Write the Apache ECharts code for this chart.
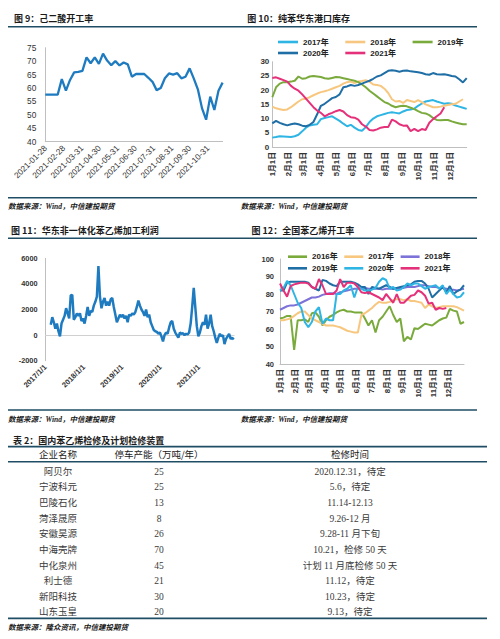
<!DOCTYPE html>
<html><head><meta charset="utf-8">
<script src="https://cdn.jsdelivr.net/npm/echarts@6/dist/echarts.min.js"></script>
<style>html,body{margin:0;padding:0;background:#fff}#c{width:500px;height:639px}</style>
</head><body><div id="c"></div>
<script>
// ---------- 图9：己二酸开工率 (weekly, from 2021-01-28) ----------
const adipicStart = '2021-01-28';
const adipicRate = [57.5,57.5,57.5,57.5,63.3,59,63,65.8,66,66.4,71.4,69.2,71.4,69,72.8,70.2,68.5,70,68.4,69.5,68.8,64.2,65.2,65.2,65.2,63.8,62.3,59.2,60,63.6,65.4,65,65.5,63.6,64.2,67.3,63.6,59.5,52.5,48.2,56.8,51.8,59,62];

// ---------- 图10：纯苯华东港口库存 (weekly from 1月1日) ----------
const invYears = ['2017年','2018年','2019年','2020年','2021年'];
const inv2017 = [3.3,3.5,3.8,3.7,3.6,3.5,3.8,4.3,5.5,6.8,7.6,7.8,8.0,9.8,10.2,10.5,10.8,10.0,9.2,8.2,7.3,7.8,6.8,6.0,5.7,7.0,8.8,10.0,10.8,11.2,11.6,12.0,12.2,12.0,11.8,12.5,13.0,13.2,13.5,14.5,15.3,16.0,16.3,16.5,16.0,15.6,15.2,15.4,15.2,14.6,14.2,13.8,13.4];
const inv2018 = [14.2,13.6,13.3,13.0,13.2,14.0,15.0,16.0,16.8,17.0,17.5,18.2,18.8,19.3,19.6,20.0,20.5,21.0,21.5,22.3,22.8,23.0,22.5,23.0,23.2,23.5,23.0,22.0,21.8,21.5,20.5,19.0,16.8,16.0,16.2,15.5,16.5,16.2,15.8,16.5,15.8,15.0,14.5,14.0,14.0,14.2,14.5,14.8,15.0,15.2,16.0,16.8];
const inv2019 = [17.5,21.0,22.3,22.8,22.8,23.0,23.3,24.8,24.0,24.2,24.8,25.0,24.8,24.6,24.2,24.0,24.3,24.6,24.5,24.2,23.9,23.6,23.3,22.8,22.0,21.0,19.8,18.8,17.8,16.8,15.8,15.3,14.5,14.0,14.3,14.5,14.3,13.8,13.3,12.6,12.0,11.8,11.2,10.2,9.5,9.4,9.5,9.5,9.0,8.6,8.3,8.0,8.0];
const inv2020 = [8.3,9.2,8.5,8.0,7.6,8.0,8.3,8.0,7.5,7.3,7.8,8.8,11.5,14.5,15.2,16.2,17.2,17.6,18.5,21.0,21.3,21.8,21.5,21.8,22.3,22.8,23.3,24.0,24.8,25.2,26.0,26.8,27.0,26.8,26.5,26.8,26.9,26.6,26.5,26.3,26.0,25.6,25.4,26.0,25.6,25.5,25.6,25.3,25.0,24.8,23.8,22.7,24.2];
const inv2021 = [24.3,24.5,24.0,23.5,23.0,21.5,20.5,19.8,18.5,17.0,15.5,14.0,12.8,12.0,10.8,11.5,12.0,12.6,13.0,12.5,11.2,10.5,10.3,9.6,8.0,7.2,6.0,5.8,6.2,6.8,7.0,7.0,9.6,9.0,8.0,7.5,7.6,5.6,6.4,5.6,6.3,6.0,8.5,9.8,10.8,11.8,14.0];

// ---------- 图11：华东非一体化苯乙烯加工利润 (sampled ~every 2 weeks from 2017-02-20) ----------
const profitStart = '2017-02-20';
const profitStepDays = 14.65;
const profit = [800,1400,1000,500,900,300,-100,900,1200,1500, 2100,1700,1300,3100,3150,1200,1400,1700,1500,1700, 1100,1300,900,1500,2200,1500,1900,1800,2300,2600, 3000,5400,3000,2100,2600,2900,2300,2600,2300,2800, 2900,2200,1600,1000,1300,1600,1400,1600,1300,1500, 1000,1600,1500,1700,1600,1800,2200,2700,2300,2000, 1800,1500,2000,1400,1600,1000,700,400,300,250, 100,200,-100,-500,0,200,100,600,1000,1100, 500,200,0,-200,200,100,150,0,100,50, 200,900,2200,3700,2200,700,-100,200,700,1000, 800,1600,500,900,1600,700,300,-200,-600,-200, 100,-100,0,-700,-300,-100,100,-300,-200,-350];
const profitYearTicks = [2017,2018,2019,2020,2021];

// ---------- 图12：全国苯乙烯开工率 (weekly from 1月1日) ----------
const opYears = ['2016年','2017年','2018年','2019年','2020年','2021年'];
const op2016 = [66,66.5,67.5,67.5,48,65,65,65.5,64,69, 69.5,67,62,65,67, 68,69.5,70.5,71,70, 70,69.5,69.5,69.5,66, 62,65,58,65,67, 70,73,68,64,66, 53,55.5,54,60.5,60, 61.5,63,62.5,62,63.5, 65,66,66.5,71.5,70.5, 70,63,64];
const op2017 = [65,65,65.5,66,67.5, 69,70,70,68,66, 65,64,63,62,62, 62,61.5,61,60,59, 58.5,58,58,68,69, 70.5,72,74,75.5,75, 75,75.5,76.5,77,77, 76.5,77,76,76,75.5, 75,72,74,73,72, 72.5,73,73,73,73, 72.5,71.5,70.5];
const op2018 = [71,72,73,73.5,73.5, 74,75,76,77,78, 78,78.5,79.5,80,80.5, 80.5,80,81,81.5,82, 82.5,83,83,83.5,83.5, 83,83,83,83,82.5, 83,83,83,83,83.5, 83.5,84,84,84,84.5, 85,85,84.5,84,84, 83.5,83.5,83,82.5,82.5, 82,82.5,83];
const op2019 = [82,82,86.5,87,87, 87,87,87,86.5,84, 83,82,88,87.5,86, 85,84.5,87,87,87, 87,86.5,85.5,84,84, 80,84,83.5,83,84, 85,84,83,83.5,84, 84.5,85,85.5,87,87.5, 87.5,86,83,78,80, 82,84,81,84.5,80, 81.5,82.5,85];
const op2020 = [82,83.5,87.5,85,80, 75,72,64,61,64, 70,72.5,63,66,65, 65,80,80,82,83, 85,78,84,83,82, 82,82.5,83.5,87,89, 88,83,84,82,82.5, 84,86,85,86,86, 84.5,83,84,84.5,85, 83,85,80,82.5,80, 78,78.5,81];
const op2021 = [86,82,78.5,84.5,85.5, 86,86.5,86.5,86,84, 83,88.5,85,80,80, 80,82,88.5,84,86.5, 86.5,86,84,81,80.5, 81,80,79,78,76.5, 80,77.5,75,80,75, 75,77,79,79.5,82, 81,79,74.5,75,71, 72,71.5,72];

// ---------- 表2 ----------
const tableHeader = ['企业名称','停车产能（万吨/年）','检修时间'];
const companies = ['阿贝尔','宁波科元','巴陵石化','菏泽晟原','安徽昊源','中海壳牌','中化泉州','利士德','新阳科技','山东玉皇'];
const capacities = ['25','25','13','8','26','70','45','21','30','20'];
const overhaulTimes = ['2020.12.31，待定','5.6，待定','11.14-12.13','9.26-12 月','9.28-11 月下旬','10.21，检修 50 天','计划 11 月底检修 50 天','11.12，待定','10.23，待定','9.13，待定'];

// ---------- titles / sources ----------
const titles = ['图 9：己二酸开工率','图 10：纯苯华东港口库存','图 11：华东非一体化苯乙烯加工利润','图 12：全国苯乙烯开工率','表 2：国内苯乙烯检修及计划检修装置'];
const sourceWind = '数据来源：Wind，中信建投期货';
const sourceTable = '数据来源：隆众资讯，中信建投期货';

// ================= build =================
const DAY = 86400000;
const t0 = Date.parse(adipicStart + 'T00:00:00Z');
const adipicCats = [];
for (let i = 0; i < adipicRate.length * 7 - 6; i++) adipicCats.push(new Date(t0 + i * DAY).toISOString().slice(0, 10));
const adipicLabel = (i) => i === 0 || (i > 7 && new Date(t0 + (i + 1) * DAY).getUTCDate() === 1);

const monthLen = [31,28,31,30,31,30,31,31,30,31,30,31];
const dayCats = [];
monthLen.forEach((n, m) => { for (let d = 1; d <= n; d++) dayCats.push((m + 1) + '月' + d + '日'); });
const dayLabel = (i, v) => /^\d+月1日$/.test(v);

const p0 = Date.parse(profitStart + 'T00:00:00Z');
const y2017 = Date.parse('2017-01-01T00:00:00Z');
const profitData = profit.map((v, i) => [2017 + (p0 - y2017 + i * profitStepDays * DAY) / (365.25 * DAY), v]);

const weekly = (arr) => arr.map((v, k) => [k * 7, v]);

const LAT = '"Liberation Sans","Noto Sans CJK SC"';
const AX = '#BFBFBF';
const LINEC = '#1F4E64';

const C = {c17:'#2EB5E3', c18:'#F7C77F', c19:'#7AAA3C', c20:'#1F6EA6', c21:'#E5307A', c16:'#7AAA3C', cPurple:'#7C72D8', blue:'#1F7BC0'};

function ser(name, color, data, xi, yi, w) {
  return {type:'line', name, xAxisIndex:xi, yAxisIndex:yi, data, symbol:'none', showSymbol:false, color,
    lineStyle:{color, width:w}, emphasis:{disabled:true}, silent:true};
}
const lbl = (size, bold, extra) => Object.assign({fontSize:size, fontWeight: bold ? 'bold' : 'normal', color:'#333', fontFamily:LAT}, extra || {});
const axLine = {show:true, lineStyle:{color:AX, width:1}};

const G = [];
function txt(x, y, s, font, fill, align) {
  G.push({type:'text', x, y, silent:true, style:{text:s, font, fill:fill || '#1a1a1a', align:align || 'left', textAlign:align || 'left', verticalAlign:'middle', textVerticalAlign:'middle'}});
}
function ln(x1, y1, x2, y2, w, c) {
  G.push({type:'line', silent:true, shape:{x1, y1, x2, y2}, style:{stroke:c || LINEC, lineWidth:w}});
}
const TF = 'bold 9px "Noto Sans CJK SC"';
const SF = 'italic bold 7.5px "Liberation Serif","Noto Sans CJK SC"';
txt(14, 18.8, titles[0], TF);
txt(247.3, 18.6, titles[1], TF);
txt(11, 230, titles[2], TF);
txt(251.5, 230, titles[3], TF);
txt(13, 440, titles[4], TF);
ln(8, 26.8, 477, 26.8, 1.6);
ln(8, 197.8, 477, 197.8, 1.6);
ln(8, 238.3, 477, 238.3, 1.6);
ln(8, 410, 477, 410, 1.6);
txt(8, 206, sourceWind, SF);
txt(240.7, 206, sourceWind, SF);
txt(8, 419, sourceWind, SF);
txt(240.7, 419, sourceWind, SF);
// table
ln(8, 446.6, 487, 446.6, 1.8);
ln(8, 461.8, 487, 461.8, 1.4);
ln(8, 618.3, 487, 618.3, 1.8);
const colX = [58, 159, 350];
const HF = '9.5px "Noto Sans CJK SC"';
const BF = '9.5px "Liberation Serif","Noto Sans CJK SC"';
tableHeader.forEach((h, j) => txt(colX[j], 454.3, h, HF, '#1a1a1a', 'center'));
companies.forEach((c, i) => {
  const y = 471.7 + i * 15.64;
  txt(colX[0], y, c, BF, '#3a3a3a', 'center');
  txt(colX[1], y, capacities[i], BF, '#3a3a3a', 'center');
  txt(colX[2], y, overhaulTimes[i], BF, '#3a3a3a', 'center');
});
txt(8, 627.4, sourceTable, SF);

const invColors = [C.c17, C.c18, C.c19, C.c20, C.c21];
const invData = [inv2017, inv2018, inv2019, inv2020, inv2021];
const opColors = [C.c16, C.c18, C.cPurple, C.c20, C.c17, C.c21];
const opData = [op2016, op2017, op2018, op2019, op2020, op2021];

const series = [];
series.push(ser('adipic', C.blue, adipicRate.map((v, k) => [k * 7, v]), 0, 0, 2.3));
invYears.forEach((n, i) => series.push(ser('A' + n, invColors[i], weekly(invData[i]), 1, 1, 2)));
series.push(ser('profit', C.blue, profitData, 2, 2, 2.5));
opYears.forEach((n, i) => series.push(ser('B' + n, opColors[i], weekly(opData[i]), 4, 3, 2)));

const legBase = {orient:'horizontal', icon:'rect', itemHeight:2.6, padding:0, selectedMode:false,
  formatter: (n) => n.slice(1), textStyle:{fontSize:8, fontWeight:'bold', color:'#222', fontFamily:LAT}};

const option = {
  animation:false,
  backgroundColor:'#fff',
  grid:[
    {left:45.3, top:47.7, width:177.3, height:94},
    {left:272.3, top:61.7, width:194.4, height:85.3},
    {left:45.5, top:258.3, width:188.6, height:102.4},
    {left:280, top:259, width:184, height:105}
  ],
  xAxis:[
    {type:'category', gridIndex:0, data:adipicCats, boundaryGap:false, axisLine:axLine, axisTick:{show:false}, splitLine:{show:false},
      axisLabel:lbl(8.3, false, {rotate:45, interval:adipicLabel, margin:5})},
    {type:'category', gridIndex:1, data:dayCats, boundaryGap:false, axisLine:axLine, axisTick:{show:false}, splitLine:{show:false},
      axisLabel:lbl(7.8, true, {rotate:90, interval:dayLabel, margin:5})},
    {type:'value', gridIndex:2, min:2017, max:2021.92, interval:1, axisLine:{show:false, onZero:false}, axisTick:{show:false}, splitLine:{show:false},
      axisLabel:lbl(7.5, true, {rotate:45, margin:5, showMaxLabel:false, formatter:(v) => profitYearTicks.includes(v) ? v + '/1/1' : ''})},
    {type:'value', gridIndex:2, min:2017, max:2021.92, interval:1, axisLine:{show:true, onZero:true, lineStyle:{color:'#D0D0D0'}}, axisTick:{show:false}, splitLine:{show:false}, axisLabel:{show:false}},
    {type:'category', gridIndex:3, data:dayCats, boundaryGap:false, axisLine:axLine, axisTick:{show:false}, splitLine:{show:false},
      axisLabel:lbl(7.8, true, {rotate:90, interval:dayLabel, margin:5})}
  ],
  yAxis:[
    {type:'value', gridIndex:0, min:40, max:75, interval:5, axisLine:axLine, axisTick:{show:false}, splitLine:{show:false}, axisLabel:lbl(8.3, false, {margin:9})},
    {type:'value', gridIndex:1, min:0, max:30, interval:5, axisLine:axLine, axisTick:{show:false}, splitLine:{show:false}, axisLabel:lbl(8, true, {margin:3})},
    {type:'value', gridIndex:2, min:-2000, max:6000, interval:2000, axisLine:axLine, axisTick:{show:false}, splitLine:{show:false}, axisLabel:lbl(7.3, true, {margin:8, formatter:(v) => String(v)})},
    {type:'value', gridIndex:3, min:40, max:100, interval:10, axisLine:axLine, axisTick:{show:false}, splitLine:{show:false}, axisLabel:lbl(7.5, true, {margin:6})}
  ],
  legend:[
    Object.assign({}, legBase, {left:278, top:38, itemWidth:20, itemGap:16.5, data:invYears.slice(0,3).map(n => 'A' + n)}),
    Object.assign({}, legBase, {left:278, top:49, itemWidth:20, itemGap:16.5, data:invYears.slice(3).map(n => 'A' + n)}),
    Object.assign({}, legBase, {left:288, top:252.7, itemWidth:19, itemGap:6.5, data:opYears.slice(0,3).map(n => 'B' + n)}),
    Object.assign({}, legBase, {left:288, top:264.3, itemWidth:19, itemGap:6.5, data:opYears.slice(3).map(n => 'B' + n)})
  ],
  graphic:{elements:G},
  series
};
const chart = echarts.init(document.getElementById('c'), null, {renderer:'svg'});
chart.setOption(option);
</script>
</body></html>
